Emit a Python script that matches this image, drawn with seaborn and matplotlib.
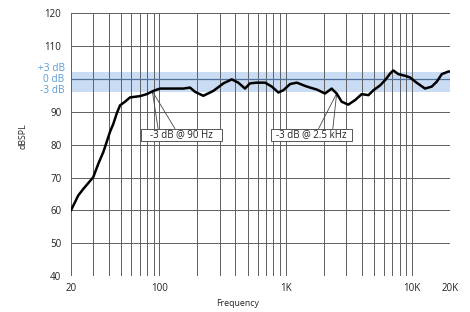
import numpy as np
import pandas as pd
import matplotlib
matplotlib.use("Agg")
import matplotlib.pyplot as plt
import seaborn as sns
from matplotlib.patches import Rectangle
from matplotlib.transforms import blended_transform_factory

# ---- data ----
freq_hz = [20, 22.8, 25.0, 30.0, 32.9, 36.0, 38.3, 40.7, 43.3, 46.0, 48.9, 53.5,
           58.6, 70.3, 79.5, 89.9, 101.4, 121.6, 155, 175, 192, 223, 268, 322,
           375, 422, 477, 522, 590, 688, 777, 876, 960, 1086, 1228, 1426, 1562,
           1764, 2050, 2312, 2534, 2776, 3130, 3550, 4000, 4520, 4960, 5610,
           6140, 6720, 7120, 7800, 8800, 9640, 10880, 12680, 14340, 15720,
           17220, 19460, 20000]
spl_db = [60.0, 64.5, 66.5, 70.1, 74.2, 77.7, 80.8, 83.9, 86.4, 89.5, 92.0, 93.1,
          94.4, 94.8, 95.4, 96.4, 97.1, 97.1, 97.1, 97.4, 96.1, 94.9, 96.4, 98.7,
          99.9, 98.9, 97.1, 98.7, 98.9, 98.9, 97.7, 95.9, 96.6, 98.5, 98.9, 97.9,
          97.4, 96.8, 95.6, 97.1, 95.6, 93.1, 92.2, 93.6, 95.4, 95.1, 96.6, 98.1,
          99.7, 101.7, 102.6, 101.5, 101.0, 100.5, 98.9, 97.1, 97.7, 99.2,
          101.5, 102.3, 102.3]

ref_level = 100.0
band_low, band_high = 96.2, 102.2
band_labels = ["+3 dB", "0 dB", "-3 dB"]
band_label_y = [103.3, 100.0, 96.5]

x_ticks = [20, 100, 1000, 10000, 20000]
x_tick_labels = ["20", "100", "1K", "10K", "20K"]
y_ticks = [40, 50, 60, 70, 80, 90, 100, 110, 120]
y_tick_labels = ["40", "50", "60", "70", "80", "90", "", "110", "120"]

ann_texts = ["-3 dB @ 90 Hz", "-3 dB @ 2.5 kHz"]
ann_freq = [88, 2535]
ann_db = [96.3, 95.6]

# ---- plot ----
sns.set_style("white")
plt.rcParams['font.family'] = ['Open Sans', 'DejaVu Sans']

fig = plt.figure(figsize=(4.70, 3.12), dpi=100)
ax = fig.add_axes([71/470, 1-276/312, (450-71)/470, (276-13.4)/312])

df = pd.DataFrame({"Frequency": freq_hz, "dBSPL": spl_db})

grid_color = "#5e5e5e"
ax.axhspan(band_low, band_high, color="#c9dcf3", zorder=0, lw=0)

vgrid = [20, 30, 40, 50, 60, 70, 80, 90,
         100, 200, 300, 400, 500, 600, 700, 800, 900,
         1000, 2000, 3000, 4000, 5000, 6000, 7000, 8000, 9000,
         10000, 20000]
for v in vgrid:
    ax.axvline(v, color=grid_color, lw=0.7, zorder=1)
for h in y_ticks:
    ax.axhline(h, color=grid_color, lw=0.7, zorder=1)
ax.axhline(ref_level, color="#50709a", lw=0.9, zorder=1.5)

sns.lineplot(data=df, x="Frequency", y="dBSPL", ax=ax, color="black",
             lw=1.8, zorder=5, sort=False)

ax.set_xscale("log")
ax.set_xlim(20, 20000)
ax.set_ylim(40, 120)
ax.set_xticks(x_ticks)
ax.set_xticklabels(x_tick_labels)
ax.xaxis.set_minor_locator(matplotlib.ticker.NullLocator())
ax.set_yticks(y_ticks)
ax.set_yticklabels(y_tick_labels)
ax.tick_params(axis="both", length=0, labelsize=7, colors="#222222")
ax.tick_params(axis="x", pad=5)
ax.tick_params(axis="y", pad=7)
for s in ax.spines.values():
    s.set_visible(False)

ax.set_xlabel("Frequency", fontsize=6.3, color="#222222")
ax.set_ylabel("dBSPL", fontsize=6.3, color="#222222")
ax.xaxis.set_label_coords(0.4406, -0.089)
ax.yaxis.set_label_coords(-0.116, 0.531)

tr = blended_transform_factory(ax.transAxes, ax.transData)
for lab, yv in zip(band_labels, band_label_y):
    ax.text(-0.017, yv, lab, transform=tr, ha="right", va="center",
            fontsize=7.3, color="#5b9bd5")

# annotation boxes (label boxes below the band, leader lines to the curve)
box_x = [(71.8, 314), (764, 3350)]
box_y = (81.2, 84.9)
leader_ends = [(97.8, 133), (1822, 2363)]
for txt, (x0, x1), f0, d0, ends in zip(ann_texts, box_x, ann_freq, ann_db, leader_ends):
    for e in ends:
        ax.plot([f0, e], [d0, box_y[1]], color="#444444", lw=0.6, zorder=4)
    ax.add_patch(Rectangle((x0, box_y[0]), x1 - x0, box_y[1] - box_y[0],
                           fc="white", ec="#555555", lw=0.7, zorder=6))
    ax.text(np.sqrt(x0 * x1), sum(box_y) / 2, txt, ha="center", va="center",
            fontsize=7, zorder=7, color="#222222")

fig.savefig("out.png", dpi=100)
